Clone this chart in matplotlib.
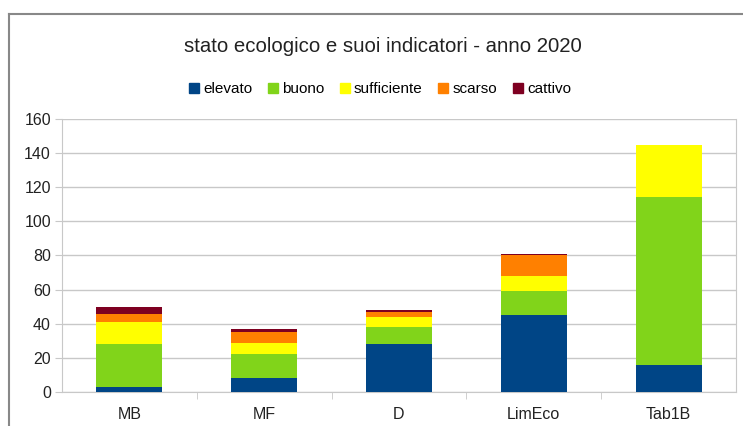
import numpy as np
import matplotlib.pyplot as plt
from matplotlib.lines import Line2D

# categorie e valori
CATEGORIES = ["MB", "MF", "D", "LimEco", "Tab1B"]
CLASSES = ["elevato", "buono", "sufficiente", "scarso", "cattivo"]

elevato = [3, 8, 28, 45, 16]
buono = [25, 14, 10, 14, 98]
sufficiente = [13, 7, 6, 9, 31]
scarso = [5, 6, 3, 12, 0]
cattivo = [4, 2, 1, 1, 0]

COLORS = ["#004586", "#81d41a", "#ffff00", "#ff8000", "#7e0021"]

plt.rcParams['font.family'] = ['Liberation Sans', 'DejaVu Sans']

fig = plt.figure(figsize=(7.43, 4.26), dpi=100)
ax = fig.add_axes([62 / 743, 1 - 392 / 426, (736 - 62) / 743, (392 - 119) / 426])

x = np.arange(len(CATEGORIES))
bottom = np.zeros(len(CATEGORIES))
series = [elevato, buono, sufficiente, scarso, cattivo]
for name, vals, col in zip(CLASSES, series, COLORS):
    vals = np.array(vals, dtype=float)
    ax.bar(x, vals, width=0.49, bottom=bottom, color=col, label=name, zorder=3)
    bottom += vals

ax.set_xlim(-0.5, len(CATEGORIES) - 0.5)
ax.set_ylim(0, 160)
ax.set_yticks(np.arange(0, 161, 20))
ax.set_xticks(x)
ax.set_xticklabels(CATEGORIES)
ax.set_xticks(np.arange(0.5, len(CATEGORIES) - 0.5), minor=True)
ax.grid(axis='y', color='#c8c8c8', linewidth=1, zorder=0)
ax.tick_params(axis='y', length=5, color='#c8c8c8', labelsize=11.5, labelcolor='#222222', pad=3)
ax.tick_params(axis='x', which='major', length=0, labelsize=11.5, labelcolor='#222222', pad=11)
ax.tick_params(axis='x', which='minor', length=5, color='#c8c8c8')
for s in ['left', 'bottom', 'right']:
    ax.spines[s].set_color('#c8c8c8')
ax.spines['top'].set_visible(False)

fig.text(0.515, 1 - 47 / 426, "stato ecologico e suoi indicatori - anno 2020",
         ha='center', va='center', fontsize=14.7, color='#222222')

handles = [Line2D([], [], marker='s', linestyle='none', markersize=7.5,
                  markerfacecolor=c, markeredgecolor=c) for c in COLORS]
fig.legend(handles, CLASSES, loc='center', bbox_to_anchor=(0.51, 1 - 89 / 426),
           ncol=5, frameon=False, fontsize=11, handletextpad=0.15,
           columnspacing=0.9, handlelength=0.9)

# cornice dell'immagine
fig.add_artist(Line2D([9 / 743, 1], [1 - 14 / 426] * 2, color='#888888', linewidth=1.5,
                      transform=fig.transFigure))
fig.add_artist(Line2D([9 / 743] * 2, [0, 1 - 14 / 426], color='#888888', linewidth=1.5,
                      transform=fig.transFigure))

fig.savefig("out.png", dpi=100)
